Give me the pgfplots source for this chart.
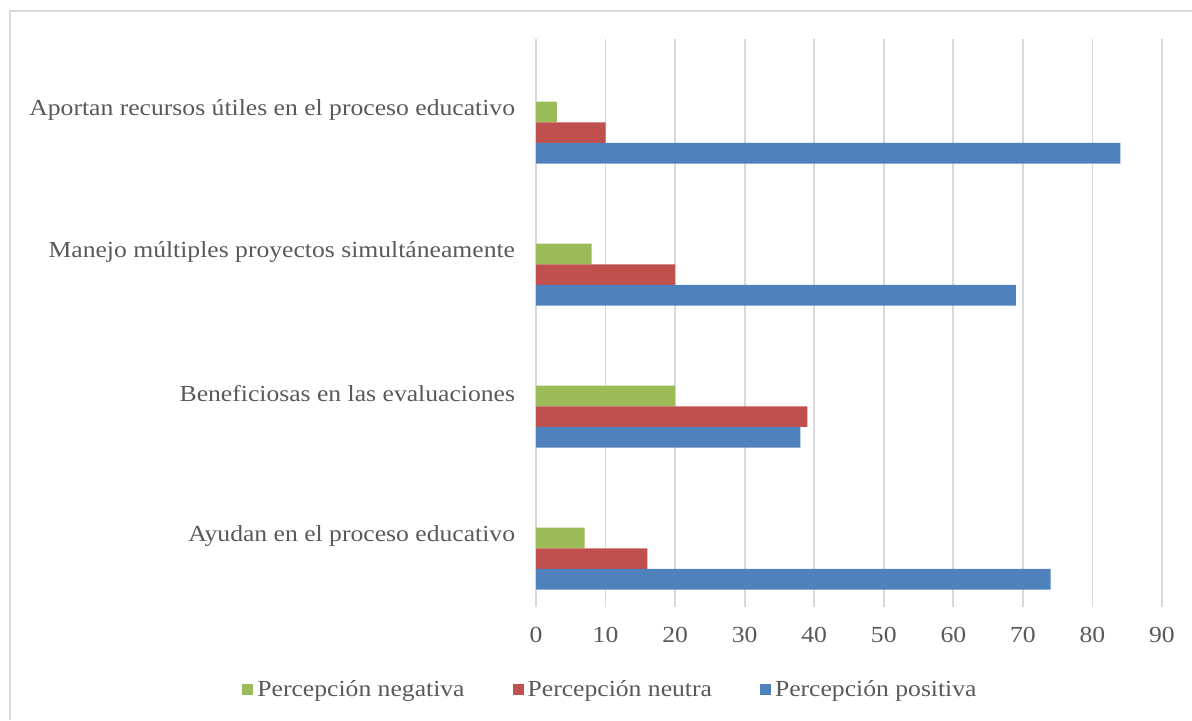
\documentclass[border=0pt]{standalone}
\usepackage{fontspec}
\setmainfont[FakeStretch=1.115]{Liberation Serif}
\usepackage{pgfplots}
\pgfplotsset{compat=1.18}
\definecolor{cneg}{HTML}{9BBB59}
\definecolor{cneu}{HTML}{C0504D}
\definecolor{cpos}{HTML}{4F81BD}
\definecolor{ctxt}{HTML}{595959}
\definecolor{cgrid}{HTML}{D9D9D9}
\begin{document}
\begin{tikzpicture}
\path[use as bounding box] (0,0) rectangle (596pt,360pt);
\draw[cgrid, line width=0.8pt] (5pt,0) -- (5pt,354.5pt) -- (596pt,354.5pt);
\begin{axis}[
  at={(268pt,56.5pt)}, anchor=south west,
  scale only axis, width=313pt, height=284pt,
  xmin=0, xmax=90, ymin=-0.5, ymax=3.5,
  xtick={0,10,...,90},
  ytick={0,1,2,3},
  yticklabels={Ayudan en el proceso educativo, Beneficiosas en las evaluaciones, Manejo múltiples proyectos simultáneamente\hspace{3.5pt}, Aportan recursos útiles en el proceso educativo},
  axis line style={draw=none},
  tick style={draw=none},
  xmajorgrids, major grid style={cgrid, line width=0.85pt},
  /pgf/number format/assume math mode=true,
  tick label style={font=\fontsize{11.5pt}{13pt}\selectfont, text=ctxt},
  xticklabel style={anchor=north, inner sep=0pt, yshift=-10pt},
  yticklabel style={anchor=east, inner sep=0pt, xshift=-6pt},
  xbar, bar width=10.3pt,
  legend columns=3,
  legend style={at={(0.1206,-0.146)}, anchor=center, draw=none, inner sep=0pt,
    font=\fontsize{11.5pt}{13pt}\selectfont, text=ctxt,
    /tikz/every even column/.append style={column sep=22pt}},
  legend image code/.code={\fill[#1,draw=none] (0pt,-2.75pt) rectangle (5.5pt,2.75pt);},
  legend cell align=left,
]
\addplot[fill=cneg, draw=none, bar shift=-1pt] coordinates {(7,0) (20,1) (8,2) (3,3)};
\addplot[fill=cneu, draw=none, bar shift=-11.3pt] coordinates {(16,0) (39,1) (20,2) (10,3)};
\addplot[fill=cpos, draw=none, bar shift=-21.6pt] coordinates {(74,0) (38,1) (69,2) (84,3)};
\legend{Percepción negativa, Percepción neutra, Percepción positiva}
\end{axis}
\end{tikzpicture}
\end{document}
